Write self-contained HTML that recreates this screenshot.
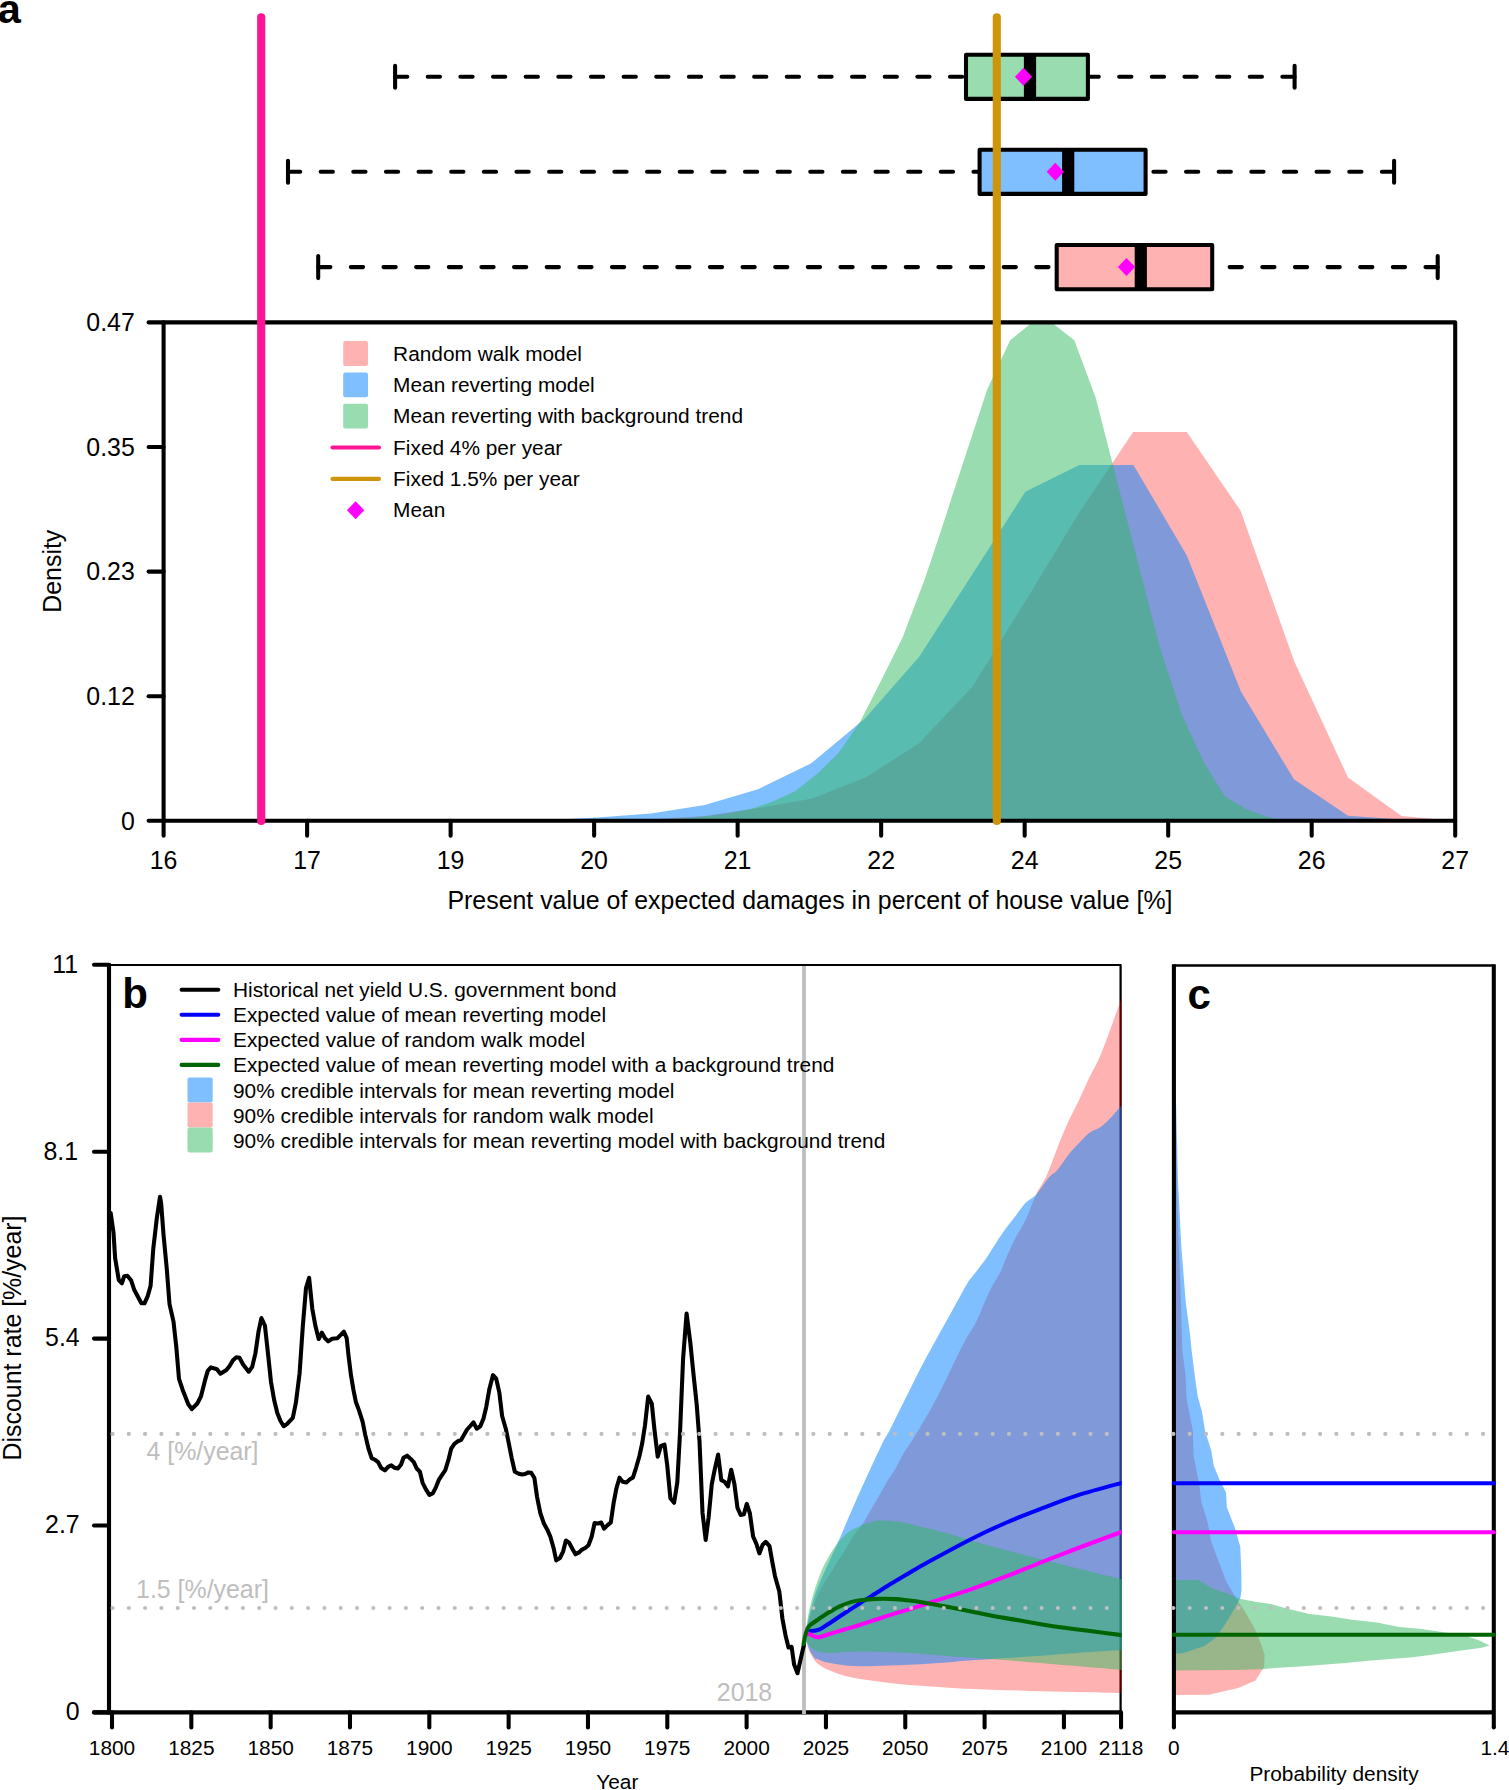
<!DOCTYPE html>
<html><head><meta charset="utf-8"><title>Figure</title>
<style>html,body{margin:0;padding:0;background:#fff}svg{display:block}</style></head>
<body>
<svg width="1509" height="1790" viewBox="0 0 1509 1790" font-family="'Liberation Sans', sans-serif" stroke-linecap="round" stroke-linejoin="round">
<rect width="1509" height="1790" fill="#fff"/>
<clipPath id="ca"><rect x="163.6" y="322.4" width="1291.6000000000001" height="498.4"/></clipPath>
<g clip-path="url(#ca)">
<polygon points="597.0,820.8 651.0,819.3 704.8,816.0 758.5,808.0 812.3,798.6 866.0,777.2 918.7,743.4 972.4,686.7 1026.4,599.4 1079.9,511.5 1133.2,431.9 1186.8,431.9 1240.5,510.5 1294.3,661.5 1348.0,777.4 1401.5,816.0 1454.0,820.8" fill="rgb(255,0,0)" fill-opacity="0.3"/>
<polygon points="540.0,820.8 549.7,820.0 597.4,817.5 651.1,813.5 704.8,805.1 758.0,789.3 811.3,763.3 865.0,718.5 919.0,657.0 972.5,574.0 1025.6,491.4 1079.4,464.9 1133.4,464.9 1186.8,555.5 1241.0,691.8 1293.9,779.2 1348.0,815.7 1401.0,819.5 1440.0,820.8" fill="rgb(0,128,255)" fill-opacity="0.5"/>
<polygon points="620.0,820.8 660.0,819.5 688.0,818.0 710.0,816.0 731.0,813.0 752.7,808.5 774.0,801.0 795.5,791.1 817.0,774.0 838.5,752.9 860.0,722.0 881.4,680.0 902.7,637.2 925.0,578.5 944.5,520.0 950.9,500.0 987.2,389.5 1010.1,340.2 1030.0,324.3 1053.8,324.3 1074.3,340.2 1095.6,397.5 1117.0,481.0 1138.5,565.0 1160.0,648.0 1181.8,714.4 1203.2,761.0 1224.7,796.3 1246.0,808.9 1267.5,817.0 1285.0,820.8" fill="rgb(49,185,97)" fill-opacity="0.5"/>
</g>
<rect x="163.6" y="322.4" width="1291.6000000000001" height="498.4" fill="none" stroke="#000" stroke-width="4.07"/>
<line x1="163.60" y1="322.40" x2="148.60" y2="322.40" stroke="#000" stroke-width="4.07" />
<text x="134.80" y="331.10" font-size="24.9" text-anchor="end" fill="#000">0.47</text>
<line x1="163.60" y1="447.00" x2="148.60" y2="447.00" stroke="#000" stroke-width="4.07" />
<text x="134.80" y="455.70" font-size="24.9" text-anchor="end" fill="#000">0.35</text>
<line x1="163.60" y1="571.60" x2="148.60" y2="571.60" stroke="#000" stroke-width="4.07" />
<text x="134.80" y="580.30" font-size="24.9" text-anchor="end" fill="#000">0.23</text>
<line x1="163.60" y1="696.20" x2="148.60" y2="696.20" stroke="#000" stroke-width="4.07" />
<text x="134.80" y="704.90" font-size="24.9" text-anchor="end" fill="#000">0.12</text>
<line x1="163.60" y1="820.80" x2="148.60" y2="820.80" stroke="#000" stroke-width="4.07" />
<text x="134.80" y="829.50" font-size="24.9" text-anchor="end" fill="#000">0</text>
<line x1="163.60" y1="820.80" x2="163.60" y2="835.80" stroke="#000" stroke-width="4.07" />
<text x="163.60" y="869.30" font-size="24.9" text-anchor="middle" fill="#000">16</text>
<line x1="307.11" y1="820.80" x2="307.11" y2="835.80" stroke="#000" stroke-width="4.07" />
<text x="307.11" y="869.30" font-size="24.9" text-anchor="middle" fill="#000">17</text>
<line x1="450.62" y1="820.80" x2="450.62" y2="835.80" stroke="#000" stroke-width="4.07" />
<text x="450.62" y="869.30" font-size="24.9" text-anchor="middle" fill="#000">19</text>
<line x1="594.13" y1="820.80" x2="594.13" y2="835.80" stroke="#000" stroke-width="4.07" />
<text x="594.13" y="869.30" font-size="24.9" text-anchor="middle" fill="#000">20</text>
<line x1="737.64" y1="820.80" x2="737.64" y2="835.80" stroke="#000" stroke-width="4.07" />
<text x="737.64" y="869.30" font-size="24.9" text-anchor="middle" fill="#000">21</text>
<line x1="881.16" y1="820.80" x2="881.16" y2="835.80" stroke="#000" stroke-width="4.07" />
<text x="881.16" y="869.30" font-size="24.9" text-anchor="middle" fill="#000">22</text>
<line x1="1024.67" y1="820.80" x2="1024.67" y2="835.80" stroke="#000" stroke-width="4.07" />
<text x="1024.67" y="869.30" font-size="24.9" text-anchor="middle" fill="#000">24</text>
<line x1="1168.18" y1="820.80" x2="1168.18" y2="835.80" stroke="#000" stroke-width="4.07" />
<text x="1168.18" y="869.30" font-size="24.9" text-anchor="middle" fill="#000">25</text>
<line x1="1311.69" y1="820.80" x2="1311.69" y2="835.80" stroke="#000" stroke-width="4.07" />
<text x="1311.69" y="869.30" font-size="24.9" text-anchor="middle" fill="#000">26</text>
<line x1="1455.20" y1="820.80" x2="1455.20" y2="835.80" stroke="#000" stroke-width="4.07" />
<text x="1455.20" y="869.30" font-size="24.9" text-anchor="middle" fill="#000">27</text>
<text x="810.00" y="909.30" font-size="24.9" text-anchor="middle" fill="#000">Present value of expected damages in percent of house value [%]</text>
<text x="61.20" y="571.20" font-size="24.9" text-anchor="middle" fill="#000" transform="rotate(-90 61.20 571.20)">Density</text>
<rect x="343.2" y="341.1" width="24.8" height="24.8" rx="2" fill="rgb(255,178,178)"/>
<rect x="343.2" y="372.5" width="24.8" height="24.8" rx="2" fill="rgb(128,191,255)"/>
<rect x="343.2" y="403.8" width="24.8" height="24.8" rx="2" fill="rgb(152,220,176)"/>
<line x1="332.50" y1="447.55" x2="379.00" y2="447.55" stroke="rgb(255,20,147)" stroke-width="4.07" />
<line x1="332.50" y1="478.90" x2="379.00" y2="478.90" stroke="rgb(205,149,12)" stroke-width="4.07" />
<polygon points="347.0,510.2 355.6,501.2 364.2,510.2 355.6,519.2" fill="rgb(255,0,255)"/>
<text x="393.10" y="360.60" font-size="20.85" text-anchor="start" fill="#000">Random walk model</text>
<text x="393.10" y="391.95" font-size="20.85" text-anchor="start" fill="#000">Mean reverting model</text>
<text x="393.10" y="423.30" font-size="20.85" text-anchor="start" fill="#000">Mean reverting with background trend</text>
<text x="393.10" y="454.65" font-size="20.85" text-anchor="start" fill="#000">Fixed 4% per year</text>
<text x="393.10" y="486.00" font-size="20.85" text-anchor="start" fill="#000">Fixed 1.5% per year</text>
<text x="393.10" y="517.35" font-size="20.85" text-anchor="start" fill="#000">Mean</text>
<line x1="395.10" y1="76.80" x2="966.00" y2="76.80" stroke="#000" stroke-width="4.07" stroke-dasharray="12.24 20.40"/>
<line x1="1294.60" y1="76.80" x2="1087.90" y2="76.80" stroke="#000" stroke-width="4.07" stroke-dasharray="12.24 20.40"/>
<line x1="395.10" y1="65.80" x2="395.10" y2="87.80" stroke="#000" stroke-width="4.07" />
<line x1="1294.60" y1="65.80" x2="1294.60" y2="87.80" stroke="#000" stroke-width="4.07" />
<rect x="966.0" y="54.7" width="121.9" height="44.2" fill="rgb(152,220,176)" stroke="#000" stroke-width="4.07"/>
<line x1="1030.00" y1="54.70" x2="1030.00" y2="98.90" stroke="#000" stroke-width="12.21" stroke-linecap="butt"/>
<polygon points="1014.9,76.8 1023.5,67.8 1032.1,76.8 1023.5,85.8" fill="rgb(255,0,255)"/>
<line x1="288.00" y1="171.80" x2="979.60" y2="171.80" stroke="#000" stroke-width="4.07" stroke-dasharray="12.24 20.40"/>
<line x1="1394.10" y1="171.80" x2="1145.60" y2="171.80" stroke="#000" stroke-width="4.07" stroke-dasharray="12.24 20.40"/>
<line x1="288.00" y1="160.80" x2="288.00" y2="182.80" stroke="#000" stroke-width="4.07" />
<line x1="1394.10" y1="160.80" x2="1394.10" y2="182.80" stroke="#000" stroke-width="4.07" />
<rect x="979.6" y="149.7" width="166.0" height="44.2" fill="rgb(128,191,255)" stroke="#000" stroke-width="4.07"/>
<line x1="1068.20" y1="149.70" x2="1068.20" y2="193.90" stroke="#000" stroke-width="12.21" stroke-linecap="butt"/>
<polygon points="1046.7,171.8 1055.3,162.8 1063.9,171.8 1055.3,180.8" fill="rgb(255,0,255)"/>
<line x1="318.20" y1="267.10" x2="1056.70" y2="267.10" stroke="#000" stroke-width="4.07" stroke-dasharray="12.24 20.40"/>
<line x1="1437.70" y1="267.10" x2="1212.20" y2="267.10" stroke="#000" stroke-width="4.07" stroke-dasharray="12.24 20.40"/>
<line x1="318.20" y1="256.10" x2="318.20" y2="278.10" stroke="#000" stroke-width="4.07" />
<line x1="1437.70" y1="256.10" x2="1437.70" y2="278.10" stroke="#000" stroke-width="4.07" />
<rect x="1056.7" y="245.0" width="155.5" height="44.2" fill="rgb(255,178,178)" stroke="#000" stroke-width="4.07"/>
<line x1="1140.80" y1="245.00" x2="1140.80" y2="289.20" stroke="#000" stroke-width="12.21" stroke-linecap="butt"/>
<polygon points="1117.9,267.1 1126.5,258.1 1135.1,267.1 1126.5,276.1" fill="rgb(255,0,255)"/>
<line x1="261.20" y1="17.20" x2="261.20" y2="821.00" stroke="rgb(255,20,147)" stroke-width="8.14" />
<line x1="996.80" y1="17.20" x2="996.80" y2="821.00" stroke="rgb(205,149,12)" stroke-width="8.14" />
<text x="-2.30" y="22.80" font-size="41.5" text-anchor="start" fill="#000" font-weight="bold">a</text>
<rect x="109.0" y="965.0" width="1011.5999999999999" height="747.4000000000001" fill="none" stroke="#000" stroke-width="2.24"/>
<line x1="109.00" y1="965.00" x2="109.00" y2="1712.40" stroke="#000" stroke-width="4.07" />
<line x1="94.00" y1="1712.40" x2="1120.60" y2="1712.40" stroke="#000" stroke-width="4.07" />
<line x1="109.00" y1="964.80" x2="94.00" y2="964.80" stroke="#000" stroke-width="4.07" />
<text x="78.00" y="972.60" font-size="24.9" text-anchor="end" fill="#000">11</text>
<line x1="109.00" y1="1151.70" x2="94.00" y2="1151.70" stroke="#000" stroke-width="4.07" />
<text x="78.00" y="1159.50" font-size="24.9" text-anchor="end" fill="#000">8.1</text>
<line x1="109.00" y1="1338.60" x2="94.00" y2="1338.60" stroke="#000" stroke-width="4.07" />
<text x="79.70" y="1346.40" font-size="24.9" text-anchor="end" fill="#000">5.4</text>
<line x1="109.00" y1="1525.50" x2="94.00" y2="1525.50" stroke="#000" stroke-width="4.07" />
<text x="79.70" y="1533.30" font-size="24.9" text-anchor="end" fill="#000">2.7</text>
<line x1="109.00" y1="1712.40" x2="94.00" y2="1712.40" stroke="#000" stroke-width="4.07" />
<text x="79.70" y="1720.20" font-size="24.9" text-anchor="end" fill="#000">0</text>
<line x1="112.00" y1="1712.40" x2="112.00" y2="1727.40" stroke="#000" stroke-width="4.07" />
<text x="112.00" y="1754.90" font-size="20.85" text-anchor="middle" fill="#000">1800</text>
<line x1="191.33" y1="1712.40" x2="191.33" y2="1727.40" stroke="#000" stroke-width="4.07" />
<text x="191.33" y="1754.90" font-size="20.85" text-anchor="middle" fill="#000">1825</text>
<line x1="270.65" y1="1712.40" x2="270.65" y2="1727.40" stroke="#000" stroke-width="4.07" />
<text x="270.65" y="1754.90" font-size="20.85" text-anchor="middle" fill="#000">1850</text>
<line x1="349.98" y1="1712.40" x2="349.98" y2="1727.40" stroke="#000" stroke-width="4.07" />
<text x="349.98" y="1754.90" font-size="20.85" text-anchor="middle" fill="#000">1875</text>
<line x1="429.31" y1="1712.40" x2="429.31" y2="1727.40" stroke="#000" stroke-width="4.07" />
<text x="429.31" y="1754.90" font-size="20.85" text-anchor="middle" fill="#000">1900</text>
<line x1="508.64" y1="1712.40" x2="508.64" y2="1727.40" stroke="#000" stroke-width="4.07" />
<text x="508.64" y="1754.90" font-size="20.85" text-anchor="middle" fill="#000">1925</text>
<line x1="587.96" y1="1712.40" x2="587.96" y2="1727.40" stroke="#000" stroke-width="4.07" />
<text x="587.96" y="1754.90" font-size="20.85" text-anchor="middle" fill="#000">1950</text>
<line x1="667.29" y1="1712.40" x2="667.29" y2="1727.40" stroke="#000" stroke-width="4.07" />
<text x="667.29" y="1754.90" font-size="20.85" text-anchor="middle" fill="#000">1975</text>
<line x1="746.62" y1="1712.40" x2="746.62" y2="1727.40" stroke="#000" stroke-width="4.07" />
<text x="746.62" y="1754.90" font-size="20.85" text-anchor="middle" fill="#000">2000</text>
<line x1="825.95" y1="1712.40" x2="825.95" y2="1727.40" stroke="#000" stroke-width="4.07" />
<text x="825.95" y="1754.90" font-size="20.85" text-anchor="middle" fill="#000">2025</text>
<line x1="905.27" y1="1712.40" x2="905.27" y2="1727.40" stroke="#000" stroke-width="4.07" />
<text x="905.27" y="1754.90" font-size="20.85" text-anchor="middle" fill="#000">2050</text>
<line x1="984.60" y1="1712.40" x2="984.60" y2="1727.40" stroke="#000" stroke-width="4.07" />
<text x="984.60" y="1754.90" font-size="20.85" text-anchor="middle" fill="#000">2075</text>
<line x1="1063.93" y1="1712.40" x2="1063.93" y2="1727.40" stroke="#000" stroke-width="4.07" />
<text x="1063.93" y="1754.90" font-size="20.85" text-anchor="middle" fill="#000">2100</text>
<line x1="1121.05" y1="1712.40" x2="1121.05" y2="1727.40" stroke="#000" stroke-width="4.07" />
<text x="1121.05" y="1754.90" font-size="20.85" text-anchor="middle" fill="#000">2118</text>
<text x="617.30" y="1788.60" font-size="20.85" text-anchor="middle" fill="#000">Year</text>
<text x="20.90" y="1338.00" font-size="24.9" text-anchor="middle" fill="#000" transform="rotate(-90 20.90 1338.00)">Discount rate [%/year]</text>
<line x1="804.00" y1="966.00" x2="804.00" y2="1713.90" stroke="rgb(190,190,190)" stroke-width="3.8" stroke-linecap="butt"/>
<clipPath id="cb"><rect x="109.0" y="965.0" width="1012.8999999999999" height="747.4000000000001"/></clipPath>
<g clip-path="url(#cb)">
<path d="M806.3,1642.5C806.4,1639.8 805.5,1633.8 807.1,1626.6C808.7,1619.4 813.1,1606.7 815.9,1599.5C818.7,1592.3 821.1,1588.4 823.8,1583.6C826.4,1578.8 829.1,1575.1 831.8,1570.9C834.4,1566.7 837.1,1562.5 839.7,1558.2C842.4,1554.0 845.1,1549.7 847.7,1545.4C850.4,1541.2 853.1,1536.3 855.6,1532.7C858.1,1529.1 860.1,1527.6 862.8,1523.6C865.5,1519.6 868.8,1513.3 871.6,1508.5C874.4,1503.7 876.9,1499.6 879.5,1495.0C882.1,1490.4 884.9,1485.1 887.5,1480.7C890.1,1476.3 892.8,1473.2 895.4,1468.7C898.0,1464.2 900.8,1458.1 903.4,1453.6C906.0,1449.1 908.5,1446.1 911.3,1441.7C914.1,1437.3 915.9,1434.4 920.0,1427.4C924.1,1420.5 931.0,1408.8 935.7,1400.0C940.4,1391.2 944.4,1382.6 948.4,1374.5C952.4,1366.4 956.3,1357.9 959.5,1351.5C962.7,1345.1 964.9,1341.0 967.5,1336.3C970.1,1331.6 972.8,1328.8 975.4,1323.6C978.0,1318.4 980.8,1311.3 983.4,1305.3C986.0,1299.3 988.5,1293.2 991.3,1287.8C994.1,1282.4 997.8,1277.2 1000.0,1273.0C1002.2,1268.8 1001.8,1268.1 1004.3,1262.4C1006.8,1256.7 1011.4,1246.1 1014.9,1239.0C1018.4,1231.9 1022.0,1227.3 1025.5,1219.9C1029.0,1212.5 1032.7,1201.8 1036.2,1194.4C1039.8,1187.0 1043.3,1183.1 1046.8,1175.3C1050.3,1167.5 1053.9,1156.5 1057.4,1147.7C1060.9,1138.9 1064.5,1130.1 1068.0,1122.3C1071.5,1114.5 1075.1,1108.4 1078.6,1101.0C1082.1,1093.6 1085.7,1085.1 1089.2,1077.7C1092.8,1070.3 1096.4,1064.6 1099.9,1056.4C1103.5,1048.2 1106.8,1038.8 1110.5,1028.8C1114.2,1018.8 1120.2,1001.9 1122.2,996.5L1122.3,1692.9C1119.7,1692.9 1112.5,1692.8 1106.2,1692.7C1099.8,1692.6 1091.6,1692.4 1084.3,1692.3C1077.0,1692.1 1069.7,1692.0 1062.4,1691.8C1055.1,1691.7 1047.8,1691.4 1040.6,1691.2C1033.3,1691.0 1026.0,1690.8 1018.7,1690.5C1011.4,1690.3 1004.1,1690.1 996.8,1689.9C989.5,1689.6 982.2,1689.3 975.0,1689.0C967.7,1688.7 960.4,1688.4 953.1,1687.9C945.8,1687.5 938.5,1686.9 931.2,1686.4C923.9,1685.9 916.6,1685.5 909.3,1684.9C902.1,1684.2 894.8,1683.5 887.5,1682.7C880.2,1681.8 872.9,1681.0 865.6,1679.8C858.3,1678.6 850.3,1677.3 843.7,1675.4C837.2,1673.6 830.6,1670.9 826.2,1668.9C821.9,1666.9 819.5,1664.9 817.5,1663.4C815.5,1661.9 815.6,1661.9 814.3,1660.0C813.0,1658.1 810.7,1654.7 809.5,1652.0C808.3,1649.3 807.6,1645.7 807.1,1644.1C806.6,1642.5 806.4,1642.8 806.3,1642.5Z" fill="rgb(255,0,0)" fill-opacity="0.3"/>
<path d="M806.3,1642.5C806.4,1639.7 805.9,1633.0 807.1,1625.8C808.3,1618.6 811.4,1606.8 813.5,1599.5C815.6,1592.2 817.5,1587.8 819.9,1582.0C822.3,1576.2 825.1,1570.3 827.8,1564.5C830.4,1558.7 833.5,1551.9 835.8,1547.0C838.0,1542.1 840.0,1537.9 841.3,1535.1C842.5,1532.3 840.9,1535.6 843.3,1530.0C845.7,1524.4 851.0,1511.9 855.7,1501.3C860.4,1490.7 867.1,1476.1 871.6,1466.3C876.1,1456.5 879.7,1448.6 882.7,1442.5C885.8,1436.4 887.0,1435.4 889.9,1429.8C892.8,1424.2 896.9,1415.7 900.2,1409.1C903.5,1402.5 906.4,1396.6 909.7,1390.0C913.0,1383.4 915.5,1378.0 919.8,1369.7C924.1,1361.4 930.4,1350.0 935.7,1340.3C941.0,1330.6 946.3,1321.2 951.6,1311.7C956.9,1302.2 964.1,1288.9 967.5,1283.1C970.9,1277.3 969.3,1280.5 972.2,1276.7C975.1,1272.9 981.4,1265.0 985.0,1260.0C988.6,1255.0 990.5,1251.4 993.7,1246.5C996.9,1241.6 1000.8,1235.5 1004.3,1230.5C1007.8,1225.5 1011.4,1221.3 1014.9,1216.7C1018.4,1212.1 1022.0,1206.6 1025.5,1202.9C1029.0,1199.2 1032.3,1198.6 1036.2,1194.4C1040.1,1190.2 1045.4,1181.6 1048.9,1177.5C1052.4,1173.4 1054.2,1173.7 1057.4,1170.0C1060.6,1166.3 1064.5,1159.6 1068.0,1155.2C1071.5,1150.8 1075.1,1147.2 1078.6,1143.5C1082.1,1139.8 1085.7,1135.6 1089.2,1132.9C1092.8,1130.2 1096.4,1130.1 1099.9,1127.6C1103.5,1125.1 1106.8,1121.8 1110.5,1118.0C1114.2,1114.2 1120.2,1106.8 1122.2,1104.5L1122.3,1649.9C1119.7,1650.0 1112.5,1650.5 1106.2,1651.0C1099.8,1651.4 1091.6,1652.0 1084.3,1652.5C1077.0,1653.0 1069.7,1653.5 1062.4,1654.0C1055.1,1654.6 1047.8,1655.2 1040.6,1655.8C1033.3,1656.3 1026.7,1656.7 1018.7,1657.3C1010.7,1657.8 999.7,1658.6 992.4,1659.0C985.2,1659.5 981.5,1659.7 975.0,1660.1C968.4,1660.6 960.4,1661.3 953.1,1661.9C945.8,1662.4 938.5,1662.9 931.2,1663.4C923.9,1663.9 916.6,1664.4 909.3,1664.7C902.1,1665.1 894.8,1665.4 887.5,1665.6C880.2,1665.9 872.9,1666.3 865.6,1666.3C858.3,1666.2 850.3,1665.8 843.7,1665.2C837.2,1664.5 830.6,1663.3 826.2,1662.3C821.9,1661.3 819.4,1659.7 817.5,1659.0C815.6,1658.4 816.3,1659.7 815.1,1658.4C813.9,1657.1 811.6,1653.7 810.3,1651.2C809.0,1648.7 807.8,1644.8 807.1,1643.3C806.4,1641.8 806.4,1642.6 806.3,1642.5Z" fill="rgb(0,128,255)" fill-opacity="0.5"/>
<path d="M806.3,1642.5C806.4,1639.2 806.2,1629.8 807.1,1622.6C808.0,1615.4 810.3,1606.0 811.9,1599.5C813.5,1593.0 815.0,1588.6 816.7,1583.6C818.4,1578.6 820.4,1573.5 822.2,1569.3C824.1,1565.1 825.8,1561.8 827.8,1558.2C829.8,1554.6 832.1,1550.8 834.2,1547.8C836.3,1544.8 838.2,1542.4 840.5,1539.9C842.8,1537.4 845.2,1534.7 847.7,1532.7C850.2,1530.7 853.0,1529.4 855.6,1528.0C858.2,1526.6 861.0,1525.4 863.6,1524.4C866.2,1523.4 868.9,1522.7 871.5,1522.0C874.1,1521.3 874.9,1520.4 879.5,1520.4C884.1,1520.4 892.0,1520.7 899.3,1521.8C906.6,1522.9 915.1,1525.4 923.1,1527.3C931.1,1529.2 939.0,1531.0 947.0,1533.2C955.0,1535.4 962.9,1538.1 970.9,1540.4C978.9,1542.7 986.8,1544.9 994.7,1547.1C1002.7,1549.3 1010.6,1551.4 1018.6,1553.5C1026.5,1555.6 1034.5,1557.5 1042.4,1559.5C1050.4,1561.5 1058.3,1563.4 1066.3,1565.4C1074.2,1567.4 1080.8,1569.1 1090.1,1571.4C1099.4,1573.7 1116.8,1578.0 1122.2,1579.3L1122.3,1670.0C1119.7,1669.7 1112.5,1669.0 1106.2,1668.4C1099.8,1667.9 1091.6,1667.3 1084.3,1666.7C1077.0,1666.1 1069.7,1665.6 1062.4,1665.0C1055.1,1664.3 1047.8,1663.6 1040.6,1663.0C1033.3,1662.4 1026.0,1661.8 1018.7,1661.2C1011.4,1660.6 1004.1,1660.0 996.8,1659.5C989.5,1658.9 982.2,1658.5 975.0,1658.0C967.7,1657.4 960.4,1657.0 953.1,1656.4C945.8,1655.9 938.5,1655.2 931.2,1654.7C923.9,1654.1 916.6,1653.6 909.3,1653.1C902.1,1652.7 894.8,1652.3 887.5,1652.0C880.2,1651.8 872.9,1651.4 865.6,1651.4C858.3,1651.4 848.7,1651.8 843.7,1652.0C838.8,1652.3 839.1,1652.9 835.8,1653.0C832.5,1653.1 827.0,1653.1 823.8,1652.8C820.6,1652.5 818.7,1652.0 816.7,1651.2C814.7,1650.4 813.5,1649.5 811.9,1648.0C810.3,1646.5 808.0,1643.4 807.1,1642.5C806.2,1641.6 806.4,1642.5 806.3,1642.5Z" fill="rgb(49,185,97)" fill-opacity="0.5"/>
<polyline points="110.7,1213.0 113.5,1232.5 115.1,1257.9 118.8,1280.2 121.9,1283.4 124.2,1276.2 127.4,1275.7 131.0,1280.2 134.2,1289.7 141.4,1303.3 144.5,1303.3 147.7,1296.1 150.6,1285.8 153.3,1248.4 156.8,1218.2 160.0,1196.7 161.2,1203.9 163.6,1235.7 166.8,1269.1 169.5,1304.1 173.5,1321.6 176.3,1347.0 179.0,1378.8 182.7,1389.9 188.3,1404.3 191.8,1409.0 197.3,1403.5 201.0,1396.3 205.0,1380.4 207.7,1370.9 210.9,1367.4 216.9,1369.3 220.4,1373.7 226.4,1370.1 229.6,1366.1 232.8,1360.5 236.3,1357.3 239.5,1357.8 243.1,1364.5 248.7,1371.7 252.2,1366.9 255.4,1353.4 258.6,1331.1 261.4,1318.1 264.9,1325.5 267.8,1351.8 271.0,1382.0 274.2,1400.3 277.3,1413.0 280.5,1421.0 283.7,1426.2 286.9,1424.1 292.8,1417.8 295.9,1402.7 299.6,1373.2 302.8,1326.3 306.0,1288.2 309.1,1277.8 312.3,1308.8 315.5,1326.3 318.7,1339.0 321.9,1332.7 325.0,1338.3 328.2,1341.4 332.2,1338.7 337.0,1338.3 337.5,1338.1 340.7,1334.9 343.9,1331.7 346.7,1338.1 348.6,1356.3 351.0,1375.4 353.4,1389.7 355.8,1401.7 359.0,1410.4 362.6,1421.6 365.3,1435.1 368.5,1448.6 371.7,1458.1 374.9,1459.7 378.1,1462.1 381.2,1468.0 384.9,1470.4 388.1,1466.9 391.3,1465.3 394.4,1467.7 397.9,1468.5 401.1,1464.5 403.5,1457.8 407.2,1455.7 410.7,1458.9 413.8,1462.1 416.7,1468.5 419.9,1471.7 422.6,1482.8 425.8,1489.1 429.4,1495.0 432.9,1493.1 436.1,1486.8 439.0,1479.6 442.1,1474.8 445.3,1470.1 448.5,1459.7 451.2,1448.6 454.4,1443.8 457.6,1441.4 461.2,1439.8 463.9,1435.1 467.1,1429.5 470.3,1426.0 473.5,1422.3 476.7,1428.7 480.3,1426.3 483.5,1418.4 486.2,1407.2 489.4,1388.9 493.0,1375.1 496.2,1378.6 499.4,1392.9 502.1,1416.0 505.8,1428.7 508.9,1443.8 511.7,1458.1 514.8,1471.7 518.8,1473.7 522.0,1474.4 525.2,1474.0 528.0,1472.4 531.2,1472.8 534.4,1478.0 537.1,1497.1 540.3,1513.0 544.0,1523.8 547.2,1529.4 550.3,1536.5 553.5,1547.7 556.2,1560.4 559.9,1558.0 563.1,1551.6 565.9,1540.5 569.1,1542.6 572.6,1549.2 575.5,1554.3 579.0,1552.4 582.1,1549.6 585.3,1548.0 588.5,1545.3 591.7,1536.5 594.6,1523.0 598.1,1523.5 601.2,1522.5 604.1,1528.6 607.6,1525.1 610.8,1522.5 613.6,1503.1 616.3,1488.8 619.5,1477.7 622.7,1481.7 626.4,1482.4 629.9,1479.3 633.0,1477.4 636.2,1467.3 639.4,1456.2 642.3,1442.7 645.0,1425.2 648.2,1396.6 651.8,1403.7 654.5,1430.0 657.7,1456.7 660.9,1445.9 664.5,1444.6 667.2,1465.0 670.4,1498.3 674.1,1502.8 677.3,1482.4 680.0,1433.1 683.1,1358.4 686.6,1313.5 690.3,1342.5 693.5,1374.3 696.7,1404.5 699.5,1441.1 702.5,1512.7 705.7,1540.0 708.6,1517.4 711.8,1484.0 715.0,1468.1 718.1,1454.6 721.3,1480.1 724.5,1481.7 728.0,1486.4 731.2,1469.7 734.4,1484.0 737.5,1507.9 740.7,1515.0 743.9,1514.3 746.8,1503.9 749.9,1513.5 753.1,1536.5 756.3,1543.7 759.4,1553.4 762.7,1544.8 765.8,1541.8 769.5,1546.1 772.2,1561.4 775.0,1576.2 779.3,1591.5 781.2,1608.1 782.4,1618.6 785.5,1635.2 788.5,1647.4 791.6,1646.8 794.1,1664.6 797.5,1673.2 800.8,1658.5 803.9,1645.0" fill="none" stroke="#000" stroke-width="4.07"/>
</g>
<line x1="109.00" y1="965.00" x2="109.00" y2="1712.40" stroke="#000" stroke-width="4.07" />
<clipPath id="cb2"><rect x="109.0" y="965.0" width="1012.5999999999999" height="747.4000000000001"/></clipPath>
<g clip-path="url(#cb2)">
<path d="M806.5,1633.0C807.3,1632.7 809.5,1631.3 811.1,1630.9C812.7,1630.5 814.2,1630.9 815.9,1630.5C817.6,1630.1 818.8,1630.0 821.4,1628.5C824.0,1627.0 828.1,1624.2 831.8,1621.8C835.5,1619.3 839.1,1616.8 843.7,1613.8C848.3,1610.8 854.3,1606.9 859.6,1603.5C864.9,1600.1 870.2,1596.9 875.5,1593.6C880.8,1590.3 886.1,1586.8 891.4,1583.6C896.7,1580.3 903.2,1576.5 907.3,1574.1C911.4,1571.6 911.4,1571.5 916.0,1568.9C920.6,1566.3 926.0,1563.2 935.1,1558.3C944.2,1553.3 959.0,1545.2 970.9,1539.2C982.8,1533.2 994.7,1527.7 1006.6,1522.5C1018.5,1517.3 1030.5,1512.8 1042.4,1508.2C1054.3,1503.6 1064.6,1499.4 1078.2,1495.1C1091.8,1490.8 1116.4,1484.4 1124.0,1482.3" fill="none" stroke="rgb(0,0,255)" stroke-width="4.07"/>
<path d="M806.5,1633.0C807.3,1633.3 809.5,1634.2 811.1,1634.9C812.7,1635.6 814.4,1636.5 815.9,1636.9C817.4,1637.3 817.9,1637.5 819.9,1637.1C821.9,1636.7 823.8,1635.7 827.8,1634.5C831.8,1633.3 838.4,1631.3 843.7,1629.7C849.0,1628.1 854.3,1626.7 859.6,1625.0C864.9,1623.3 870.2,1621.5 875.5,1619.8C880.8,1618.1 886.1,1616.2 891.4,1614.6C896.7,1612.9 903.2,1611.2 907.3,1609.9C911.4,1608.7 911.4,1608.6 916.0,1607.1C920.6,1605.6 926.0,1604.0 935.1,1601.0C944.2,1598.0 959.0,1593.4 970.9,1589.3C982.8,1585.2 994.7,1580.8 1006.6,1576.2C1018.5,1571.6 1030.5,1566.6 1042.4,1561.9C1054.3,1557.2 1064.6,1553.2 1078.2,1548.0C1091.8,1542.8 1116.4,1533.8 1124.0,1531.0" fill="none" stroke="rgb(255,0,255)" stroke-width="4.07"/>
<path d="M803.6,1644.0C803.9,1642.4 804.6,1637.4 805.5,1634.5C806.4,1631.6 807.0,1628.8 808.7,1626.6C810.4,1624.3 812.7,1623.3 815.9,1621.0C819.1,1618.7 823.8,1615.5 827.8,1613.0C831.8,1610.5 835.7,1608.1 839.7,1606.3C843.7,1604.5 847.7,1603.0 851.7,1601.9C855.7,1600.8 859.6,1600.4 863.6,1599.9C867.6,1599.4 872.2,1599.1 875.5,1598.9C878.8,1598.7 880.2,1598.7 883.5,1598.7C886.8,1598.7 891.4,1598.8 895.4,1599.1C899.4,1599.4 902.7,1599.8 907.3,1600.3C911.9,1600.8 916.5,1601.3 923.1,1602.4C929.7,1603.5 939.0,1605.2 947.0,1606.7C955.0,1608.2 962.9,1609.9 970.9,1611.5C978.9,1613.1 986.8,1614.8 994.7,1616.3C1002.7,1617.8 1010.6,1618.9 1018.6,1620.3C1026.5,1621.7 1034.5,1623.1 1042.4,1624.4C1050.4,1625.7 1058.3,1626.9 1066.3,1628.0C1074.2,1629.1 1080.5,1629.9 1090.1,1631.1C1099.7,1632.3 1118.3,1634.7 1124.0,1635.4" fill="none" stroke="rgb(0,100,0)" stroke-width="4.07"/>
</g>
<clipPath id="cb3"><rect x="109.0" y="965.0" width="1011.5999999999999" height="747.4000000000001"/></clipPath>
<g clip-path="url(#cb3)">
<line x1="112.50" y1="1433.90" x2="1125.00" y2="1433.90" stroke="rgb(190,190,190)" stroke-width="4.17" stroke-dasharray="0.01 16.29"/>
<line x1="112.50" y1="1608.00" x2="1125.00" y2="1608.00" stroke="rgb(190,190,190)" stroke-width="4.17" stroke-dasharray="0.01 16.29"/>
</g>
<line x1="181.60" y1="989.80" x2="218.30" y2="989.80" stroke="#000" stroke-width="4.07" />
<line x1="181.60" y1="1014.83" x2="218.30" y2="1014.83" stroke="rgb(0,0,255)" stroke-width="4.07" />
<line x1="181.60" y1="1039.86" x2="218.30" y2="1039.86" stroke="rgb(255,0,255)" stroke-width="4.07" />
<line x1="181.60" y1="1064.89" x2="218.30" y2="1064.89" stroke="rgb(0,100,0)" stroke-width="4.07" />
<rect x="187.5" y="1077.4" width="25.2" height="25" rx="2" fill="rgb(128,191,255)"/>
<rect x="187.5" y="1102.5" width="25.2" height="25" rx="2" fill="rgb(255,178,178)"/>
<rect x="187.5" y="1127.5" width="25.2" height="25" rx="2" fill="rgb(152,220,176)"/>
<text x="233.00" y="997.40" font-size="20.85" text-anchor="start" fill="#000">Historical net yield U.S. government bond</text>
<text x="233.00" y="1022.43" font-size="20.85" text-anchor="start" fill="#000">Expected value of mean reverting model</text>
<text x="233.00" y="1047.46" font-size="20.85" text-anchor="start" fill="#000">Expected value of random walk model</text>
<text x="233.00" y="1072.49" font-size="20.85" text-anchor="start" fill="#000">Expected value of mean reverting model with a background trend</text>
<text x="233.00" y="1097.52" font-size="20.85" text-anchor="start" fill="#000">90% credible intervals for mean reverting model</text>
<text x="233.00" y="1122.55" font-size="20.85" text-anchor="start" fill="#000">90% credible intervals for random walk model</text>
<text x="233.00" y="1147.58" font-size="20.85" text-anchor="start" fill="#000">90% credible intervals for mean reverting model with background trend</text>
<text x="772.20" y="1701.00" font-size="24.9" text-anchor="end" fill="rgb(190,190,190)">2018</text>
<text x="202.50" y="1459.80" font-size="24.9" text-anchor="middle" fill="rgb(190,190,190)">4 [%/year]</text>
<text x="202.50" y="1597.60" font-size="24.9" text-anchor="middle" fill="rgb(190,190,190)">1.5 [%/year]</text>
<text x="122.20" y="1007.90" font-size="42" text-anchor="start" fill="#000" font-weight="bold">b</text>
<clipPath id="cc"><rect x="1173.9" y="965.3" width="319.89999999999986" height="747.1000000000001"/></clipPath>
<g clip-path="url(#cc)">
<polygon points="1173.9,1000.0 1175.5,1100.0 1177.9,1223.7 1180.6,1290.8 1181.9,1335.6 1182.3,1350.0 1185.5,1374.6 1186.7,1399.2 1192.9,1431.1 1193.6,1455.7 1199.0,1482.7 1201.5,1502.4 1207.6,1522.1 1211.3,1541.7 1218.7,1561.4 1226.0,1581.1 1234.6,1595.8 1245.7,1613.0 1254.3,1627.8 1260.5,1642.5 1264.6,1654.8 1264.1,1667.1 1255.5,1680.6 1238.3,1688.0 1208.8,1694.7 1173.9,1694.9" fill="rgb(255,0,0)" fill-opacity="0.3"/>
<polygon points="1173.9,1095.0 1176.1,1102.9 1177.9,1179.0 1181.3,1246.0 1185.7,1302.0 1190.2,1335.6 1191.6,1350.0 1194.6,1374.6 1197.8,1396.7 1201.9,1411.5 1205.1,1431.1 1211.3,1450.8 1213.7,1465.5 1219.2,1479.1 1226.0,1492.6 1226.8,1507.3 1234.6,1527.0 1240.3,1546.7 1241.3,1571.2 1241.5,1590.9 1240.3,1598.3 1233.4,1610.6 1226.0,1622.9 1216.2,1637.6 1203.9,1646.2 1181.8,1653.6 1173.9,1653.6" fill="rgb(0,128,255)" fill-opacity="0.5"/>
<polygon points="1174.0,1579.8 1198.8,1580.3 1212.3,1588.2 1228.1,1593.8 1239.4,1598.8 1255.1,1601.7 1270.9,1603.9 1286.7,1608.4 1309.2,1614.1 1329.5,1616.3 1352.0,1619.7 1376.8,1622.6 1399.3,1627.1 1419.6,1628.7 1435.4,1631.0 1464.7,1635.5 1478.2,1640.0 1489.5,1645.6 1480.5,1647.9 1464.7,1650.1 1435.4,1654.2 1412.9,1657.3 1390.3,1659.1 1367.8,1660.7 1345.3,1663.0 1322.7,1664.8 1300.2,1666.4 1277.7,1667.7 1261.9,1669.3 1232.6,1670.0 1174.0,1670.4" fill="rgb(49,185,97)" fill-opacity="0.5"/>
</g>
<line x1="1173.90" y1="965.55" x2="1493.80" y2="965.55" stroke="#000" stroke-width="2.6" stroke-linecap="butt"/>
<line x1="1173.90" y1="964.25" x2="1173.90" y2="1727.40" stroke="#000" stroke-width="4.07" stroke-linecap="butt"/>
<line x1="1493.80" y1="964.25" x2="1493.80" y2="1727.40" stroke="#000" stroke-width="4.07" stroke-linecap="butt"/>
<line x1="1173.90" y1="1727.40" x2="1173.90" y2="1727.41" stroke="#000" stroke-width="4.07" />
<line x1="1493.80" y1="1727.40" x2="1493.80" y2="1727.41" stroke="#000" stroke-width="4.07" />
<line x1="1173.90" y1="1712.40" x2="1493.80" y2="1712.40" stroke="#000" stroke-width="4.07" stroke-linecap="butt"/>
<line x1="1173.90" y1="1483.30" x2="1493.90" y2="1483.30" stroke="rgb(0,0,255)" stroke-width="4.07" />
<line x1="1173.90" y1="1532.20" x2="1493.90" y2="1532.20" stroke="rgb(255,0,255)" stroke-width="4.07" />
<line x1="1173.90" y1="1634.80" x2="1493.90" y2="1634.80" stroke="rgb(0,100,0)" stroke-width="4.07" />
<line x1="1173.40" y1="1433.90" x2="1490.00" y2="1433.90" stroke="rgb(190,190,190)" stroke-width="4.17" stroke-dasharray="0.01 16.29"/>
<line x1="1173.40" y1="1608.00" x2="1490.00" y2="1608.00" stroke="rgb(190,190,190)" stroke-width="4.17" stroke-dasharray="0.01 16.29"/>
<text x="1173.70" y="1754.90" font-size="20.85" text-anchor="middle" fill="#000">0</text>
<text x="1494.90" y="1754.90" font-size="20.85" text-anchor="middle" fill="#000">1.4</text>
<text x="1334.00" y="1780.70" font-size="20.85" text-anchor="middle" fill="#000">Probability density</text>
<text x="1187.60" y="1008.70" font-size="42" text-anchor="start" fill="#000" font-weight="bold">c</text>
</svg>
</body></html>
